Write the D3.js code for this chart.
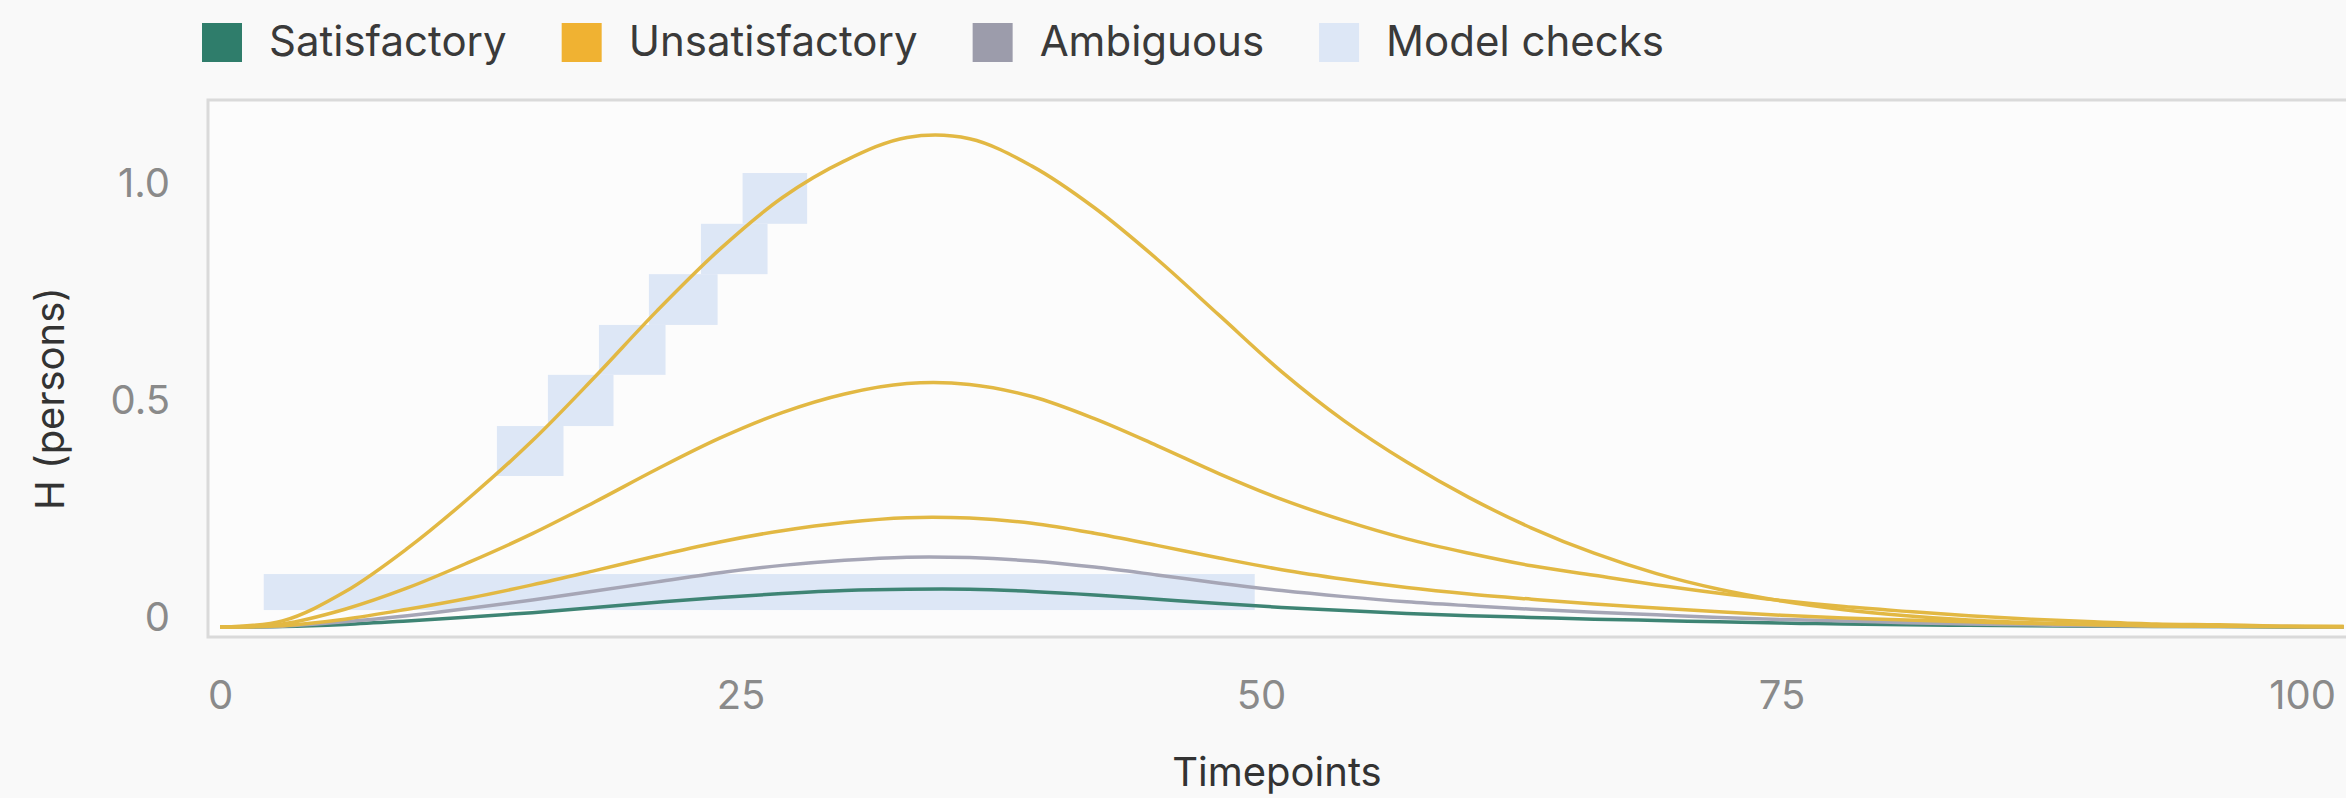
<!DOCTYPE html>
<html>
<head>
<meta charset="utf-8">
<script src="https://cdn.jsdelivr.net/npm/d3@7"></script>
<style>
  html, body { margin: 0; padding: 0; background: #f9f9f9; }
  svg { display: block; font-family: Inter, "Open Sans", sans-serif; }
</style>
</head>
<body>
<svg id="chart" width="2346" height="798"></svg>
<script>
// Hospitalised persons H over simulated timepoints
const timepoints = [0, 3, 6, 9, 12, 15, 18, 21, 24, 27, 30, 33, 36, 39, 42, 45, 48, 51,
  54, 57, 60, 63, 66, 69, 72, 75, 78, 81, 84, 87, 90, 93, 96, 99, 102];

const unsatisfactoryHigh = [0, 0.014, 0.081, 0.181, 0.299, 0.429, 0.576, 0.729, 0.870, 0.989,
  1.074, 1.128, 1.125, 1.062, 0.966, 0.848, 0.718, 0.588, 0.475, 0.380, 0.298, 0.228, 0.170,
  0.123, 0.087, 0.060, 0.040, 0.026, 0.016, 0.010, 0.006, 0.003, 0.002, 0.001, 0];

const unsatisfactoryMid = [0, 0.007, 0.041, 0.090, 0.150, 0.215, 0.288, 0.364, 0.435, 0.494,
  0.537, 0.561, 0.559, 0.531, 0.480, 0.418, 0.353, 0.294, 0.245, 0.203, 0.170, 0.141, 0.119,
  0.097, 0.078, 0.061, 0.047, 0.036, 0.026, 0.018, 0.012, 0.007, 0.005, 0.002, 0.001];

const unsatisfactoryLow = [0, 0.003, 0.018, 0.041, 0.067, 0.097, 0.130, 0.164, 0.196, 0.222,
  0.241, 0.252, 0.251, 0.239, 0.216, 0.188, 0.159, 0.132, 0.110, 0.091, 0.076, 0.064, 0.053,
  0.044, 0.035, 0.027, 0.021, 0.016, 0.012, 0.008, 0.005, 0.003, 0.002, 0.001, 0.001];

const ambiguous = [0, 0.002, 0.012, 0.026, 0.043, 0.062, 0.083, 0.104, 0.125, 0.142,
  0.154, 0.161, 0.160, 0.152, 0.138, 0.120, 0.101, 0.084, 0.070, 0.058, 0.049, 0.041, 0.034,
  0.028, 0.022, 0.017, 0.014, 0.010, 0.007, 0.005, 0.003, 0.002, 0.001, 0.001, 0];

const satisfactory = [0, 0.001, 0.006, 0.014, 0.023, 0.033, 0.045, 0.057, 0.068, 0.077,
  0.084, 0.087, 0.087, 0.082, 0.074, 0.064, 0.054, 0.045, 0.038, 0.031, 0.026, 0.022, 0.018,
  0.015, 0.012, 0.009, 0.007, 0.005, 0.004, 0.003, 0.002, 0.001, 0.001, 0, 0];

// Model-check regions: time window and H bounds
const checkStart = [2.1, 13.3, 15.75, 18.2, 20.6, 23.1, 25.1];
const checkEnd   = [49.7, 16.5, 18.9, 21.4, 23.9, 26.3, 28.2];
const checkLow   = [0.039, 0.348, 0.463, 0.581, 0.696, 0.813, 0.929];
const checkHigh  = [0.122, 0.463, 0.581, 0.696, 0.813, 0.929, 1.046];

const legendLabels = ["Satisfactory", "Unsatisfactory", "Ambiguous", "Model checks"];
const legendColors = ["#2f7d6b", "#f0b232", "#9c9cab", "#dde7f6"];
const xTicks = [0, 25, 50, 75, 100];
const yTicks = [0, 0.5, 1.0];
const yTickLabels = ["0", "0.5", "1.0"];

const series = [
  { values: satisfactory, color: "#3e8474" },
  { values: ambiguous, color: "#a6a6b6" },
  { values: unsatisfactoryLow, color: "#e2b843" },
  { values: unsatisfactoryMid, color: "#e2b843" },
  { values: unsatisfactoryHigh, color: "#e2b843" }
];

const svg = d3.select("#chart");
const W = 2346, H = 798;
const frame = { left: 208, top: 100, right: 2366, bottom: 637 };

const x = d3.scaleLinear().domain([0, 100]).range([220, 2302]);
const y = d3.scaleLinear().domain([0, 1]).range([627, 193]);

svg.append("rect").attr("width", W).attr("height", H).attr("fill", "#f9f9f9");

// Plot frame
svg.append("rect")
  .attr("x", frame.left).attr("y", frame.top)
  .attr("width", frame.right - frame.left).attr("height", frame.bottom - frame.top)
  .attr("fill", "#fcfcfc").attr("stroke", "#dadada").attr("stroke-width", 3);

svg.append("clipPath").attr("id", "plot-clip")
  .append("rect")
  .attr("x", frame.left + 2).attr("y", frame.top + 2)
  .attr("width", frame.right - frame.left - 4).attr("height", frame.bottom - frame.top - 4);

const plot = svg.append("g").attr("clip-path", "url(#plot-clip)");

// Model check boxes
plot.append("g").selectAll("rect")
  .data(checkStart.map((s, i) => ({ s, e: checkEnd[i], lo: checkLow[i], hi: checkHigh[i] })))
  .join("rect")
  .attr("x", d => x(d.s)).attr("width", d => x(d.e) - x(d.s))
  .attr("y", d => y(d.hi)).attr("height", d => y(d.lo) - y(d.hi))
  .attr("fill", "#dde7f6");

// Trajectories
const line = d3.line()
  .x((d, i) => x(timepoints[i]))
  .y(d => y(d))
  .curve(d3.curveCatmullRom.alpha(0.5));

plot.append("g").selectAll("path")
  .data(series)
  .join("path")
  .attr("d", d => line(d.values))
  .attr("fill", "none")
  .attr("stroke", d => d.color)
  .attr("stroke-width", 3.5)
  .attr("stroke-linejoin", "round");

// X axis
const xAxis = svg.append("g")
  .attr("transform", `translate(0,${frame.bottom + 4})`)
  .call(d3.axisBottom(x).tickValues(xTicks).tickSize(0).tickPadding(40).tickFormat(d3.format("d")));
xAxis.select(".domain").remove();
xAxis.selectAll("text")
  .attr("fill", "#8a8a8a").attr("font-size", 40).attr("font-family", "Inter, sans-serif");

// Y axis
const yAxis = svg.append("g")
  .attr("transform", `translate(${frame.left},0)`)
  .call(d3.axisLeft(y).tickValues(yTicks).tickSize(0).tickPadding(38)
    .tickFormat((d, i) => yTickLabels[i]));
yAxis.select(".domain").remove();
yAxis.selectAll("text")
  .attr("dy", 3)
  .attr("fill", "#8a8a8a").attr("font-size", 40).attr("font-family", "Inter, sans-serif");

// Axis titles
svg.append("text")
  .attr("x", (frame.left + W) / 2).attr("y", 786)
  .attr("text-anchor", "middle")
  .attr("font-size", 40).attr("fill", "#333")
  .text("Timepoints");

svg.append("text")
  .attr("transform", `translate(64,${(frame.top + frame.bottom) / 2 + 30}) rotate(-90)`)
  .attr("text-anchor", "middle")
  .attr("font-size", 40).attr("fill", "#333")
  .text("H (persons)");

// Legend
const legend = svg.append("g");
let lx = 202;
legendLabels.forEach((label, i) => {
  legend.append("rect")
    .attr("x", lx).attr("y", 23).attr("width", 40).attr("height", 39)
    .attr("fill", legendColors[i]);
  const t = legend.append("text")
    .attr("x", lx + 67).attr("y", 56)
    .attr("font-size", 42).attr("fill", "#3a3a3a")
    .text(label);
  lx += 67 + t.node().getComputedTextLength() + 55;
});
</script>
</body>
</html>
